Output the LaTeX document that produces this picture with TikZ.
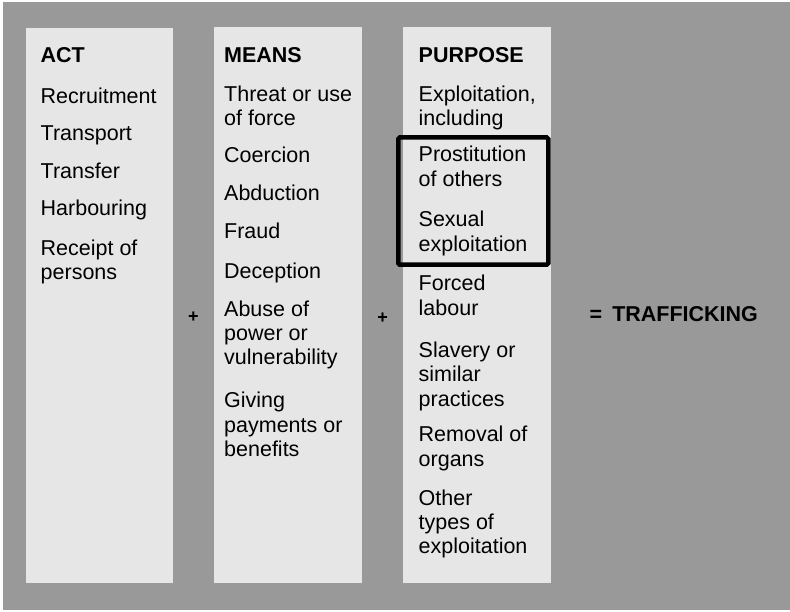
\documentclass[tikz,border=0pt]{standalone}
\usepackage{fontspec}
\setmainfont{Liberation Sans}
\definecolor{boardgray}{HTML}{999999}
\definecolor{panelgray}{HTML}{E6E6E6}
\newcommand\capstrut{\rule{0pt}{16pt}}
\begin{document}
\begin{tikzpicture}[x=1pt,y=-1pt,
  panel/.style={fill=panelgray},
  head/.style={anchor=north west, inner sep=0pt, font=\fontsize{21.5}{24.3}\selectfont\bfseries},
  entry/.style={anchor=north west, inner sep=0pt, align=left, font=\fontsize{21.5}{24.3}\selectfont},
  plus/.style={inner sep=0pt, font=\fontsize{18}{20}\selectfont\bfseries},
  highlight/.style={draw=black, line width=4.5pt, rounded corners=1.5pt}]
% page and board
\useasboundingbox (0,0) rectangle (790,612);
\fill[white] (0,0) rectangle (790,612);
\fill[boardgray] (2.5,2) rectangle (790,609.5);
% the three columns
\path[panel] (25.7,28.5) rectangle (173.4,583.3);
\path[panel] (214.4,26.8) rectangle (362.3,583.3);
\path[panel] (403.3,27) rectangle (551,583.3);
% ACT
\node[head]  (act)     at (40.5,46)  {\capstrut ACT};
\node[entry] (recr)    at (40.5,87)  {\capstrut Recruitment};
\node[entry] (transp)  at (40.5,124.7) {\capstrut Transport};
\node[entry] (transf)  at (40.5,162.3) {\capstrut Transfer};
\node[entry] (harb)    at (40.5,199.5) {\capstrut Harbouring};
\node[entry] (receipt) at (40.5,239)  {\capstrut Receipt of\\persons};
% MEANS
\node[head]  (means)   at (224,46)   {\capstrut MEANS};
\node[entry] (threat)  at (224,85)   {\capstrut Threat or use\\of force};
\node[entry] (coerc)   at (224,146)  {\capstrut Coercion};
\node[entry] (abduct)  at (224,184)  {\capstrut Abduction};
\node[entry] (fraud)   at (224,222)  {\capstrut Fraud};
\node[entry] (decep)   at (224,262)  {\capstrut Deception};
\node[entry] (abuse)   at (224,300)  {\capstrut Abuse of\\power or\\vulnerability};
\node[entry] (giving)  at (224,391.7) {\capstrut Giving\\payments or\\benefits};
% PURPOSE
\node[head]  (purpose) at (418.5,46)  {\capstrut PURPOSE};
\node[entry] (exploit) at (418.5,85)  {\capstrut Exploitation,\\including};
\node[entry] (prost)   at (418.5,145.7) {\capstrut Prostitution\\of others};
\node[entry] (sexual)  at (418.5,210.7) {\capstrut Sexual\\exploitation};
\node[entry] (forced)  at (418.5,274.7) {\capstrut Forced\\labour};
\node[entry] (slavery) at (418.5,341.3) {\capstrut Slavery or\\similar\\practices};
\node[entry] (removal) at (418.5,425.7) {\capstrut Removal of\\organs};
\node[entry] (other)   at (418.5,489)  {\capstrut Other\\types of\\exploitation};
% frame around the sexual exploitation entries
\draw[highlight] (398.3,137.5) rectangle (548.3,264.7);
% operators and result
\node[plus] (plusA) at (193.3,317.5) {+};
\node[plus] (plusB) at (382.7,318) {+};
\node[head] (result) at (589.5,305.7) {\capstrut =\hspace{10pt}TRAFFICKING};
\end{tikzpicture}
\end{document}
